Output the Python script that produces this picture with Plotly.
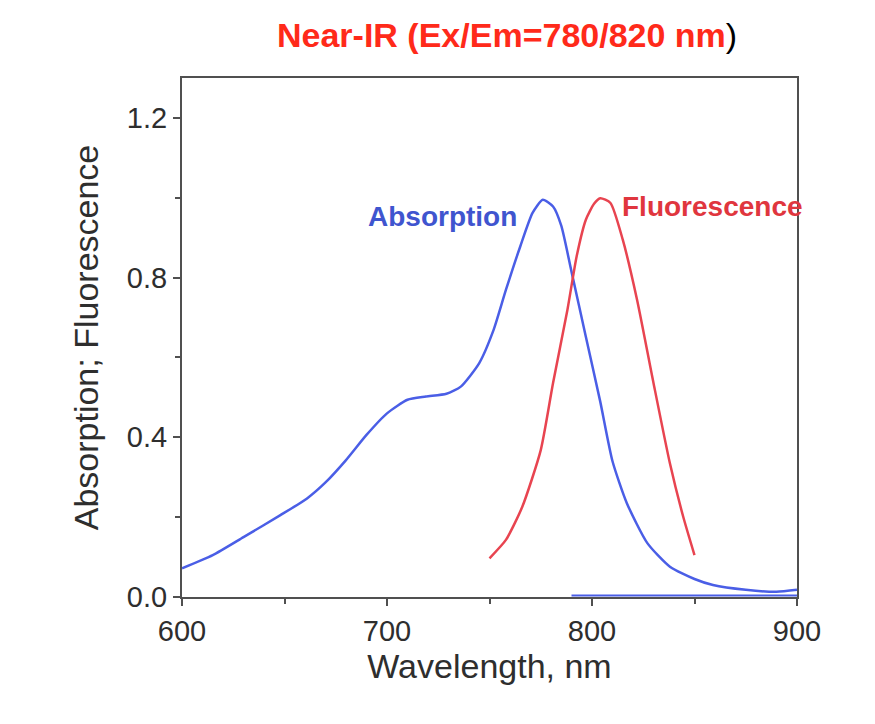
import plotly.graph_objects as go

abs_nm = [600, 615, 630, 648, 661, 670, 680, 690, 700, 710, 719, 729, 736, 745, 752, 758, 765, 771, 776, 781, 785, 790, 797, 804, 810, 817, 827, 838, 850, 859, 875, 890, 900]
abs_val = [0.072, 0.105, 0.150, 0.205, 0.247, 0.287, 0.343, 0.406, 0.460, 0.494, 0.502, 0.509, 0.527, 0.586, 0.669, 0.769, 0.878, 0.962, 0.995, 0.978, 0.930, 0.815, 0.652, 0.490, 0.340, 0.235, 0.135, 0.076, 0.045, 0.030, 0.018, 0.013, 0.018]

fl_nm = [750, 758, 766, 775, 781, 788, 792.5, 797, 801, 804, 809, 815, 822, 830, 838, 844.5, 850]
fl_val = [0.097, 0.143, 0.226, 0.368, 0.536, 0.719, 0.853, 0.945, 0.985, 0.999, 0.987, 0.895, 0.744, 0.536, 0.335, 0.201, 0.105]

base_nm = [790, 900]
base_val = [0.004, 0.004]

x_ticks = [600, 700, 800, 900]
y_ticks = [0.0, 0.4, 0.8, 1.2]
y_tick_labels = ["0.0", "0.4", "0.8", "1.2"]

BLUE = "#4a5ee6"
RED = "#e84450"
AXC = "#505050"
TXT = "#2e2e2e"
FONT = "Liberation Sans, Arial, sans-serif"

fig = go.Figure()
fig.add_trace(go.Scatter(x=base_nm, y=base_val, mode="lines",
                         line=dict(color=BLUE, width=2), hoverinfo="skip"))
fig.add_trace(go.Scatter(x=abs_nm, y=abs_val, mode="lines",
                         line=dict(color=BLUE, width=2.5, shape="spline", smoothing=0.6)))
fig.add_trace(go.Scatter(x=fl_nm, y=fl_val, mode="lines",
                         line=dict(color=RED, width=2.5, shape="spline", smoothing=0.6)))

fig.update_layout(
    width=875, height=724,
    margin=dict(l=174, r=86, t=70, b=135),
    paper_bgcolor="white", plot_bgcolor="white",
    showlegend=False,
    font=dict(family=FONT, color=TXT),
)
fig.update_xaxes(
    range=[600, 900], tickvals=x_ticks, ticks="outside", ticklen=7, tickwidth=2,
    tickcolor=AXC, showline=True, linecolor=AXC, linewidth=2, mirror=True,
    showgrid=False, zeroline=False, layer="below traces",
    tickfont=dict(size=29, color=TXT),
    title=dict(text="Wavelength, nm", font=dict(size=34, color=TXT), standoff=4),
    minor=dict(dtick=50, tick0=650, ticks="outside", ticklen=5, tickwidth=2, tickcolor=AXC),
)
fig.update_yaxes(
    range=[0, 1.3], tickvals=y_ticks, ticktext=y_tick_labels, ticks="outside", ticklen=7,
    tickwidth=2, tickcolor=AXC, showline=True, linecolor=AXC, linewidth=2, mirror=True,
    showgrid=False, zeroline=False, layer="below traces",
    tickfont=dict(size=29, color=TXT),
    title=dict(text="Absorption; Fluorescence", font=dict(size=34, color=TXT), standoff=18),
    minor=dict(dtick=0.2, tick0=0.2, ticks="outside", ticklen=5, tickwidth=2, tickcolor=AXC),
)

fig.add_annotation(x=727, y=0.952, xref="x", yref="y", text="<b>Absorption</b>",
                   showarrow=False, font=dict(size=28, color="#3f55cf", family=FONT))
fig.add_annotation(x=859, y=0.977, xref="x", yref="y", text="<b>Fluorescence</b>",
                   showarrow=False, font=dict(size=28, color="#e0363e", family=FONT))
fig.add_annotation(x=0.528, y=1.083, xref="paper", yref="paper", yanchor="middle",
                   text="<b>Near-IR (Ex/Em=780/820 nm</b><span style='color:black'>)</span>",
                   showarrow=False, font=dict(size=34, color="#ff2a1a", family=FONT))

fig.write_html("out.html")
